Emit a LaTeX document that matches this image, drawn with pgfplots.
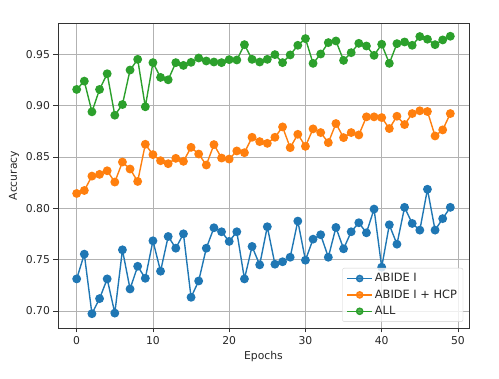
\documentclass[border=0pt]{standalone}
\usepackage{pgfplots}
\pgfplotsset{compat=1.18}
\usepackage{fontspec}
\setmainfont{DejaVu Sans}

\definecolor{mplblue}{HTML}{1F77B4}
\definecolor{mplorange}{HTML}{FF7F0E}
\definecolor{mplgreen}{HTML}{2CA02C}

\begin{document}
\begin{tikzpicture}
\begin{axis}[
at={(0,0)}, anchor=south west,
scale only axis,
width=411pt,
height=305pt,
xmin=-2.45, xmax=51.45,
ymin=0.6835, ymax=0.9805,
xtick={0,10,20,30,40,50},
ytick={0.70,0.75,0.80,0.85,0.90,0.95},
yticklabel style={/pgf/number format/.cd,fixed,fixed zerofill,precision=2},
/pgf/number format/assume math mode=true,
ticklabel style={font=\fontsize{10.8}{12}\selectfont, text=black!85},
label style={font=\fontsize{10.8}{12}\selectfont, text=black!85},
xlabel={Epochs},
ylabel={Accuracy},
xtick pos=bottom,
ytick pos=left,
tick align=outside,
major tick length=4.5pt,
tick style={black!80, line width=0.8pt},
axis line style={black!80, line width=0.9pt},
grid=major,
grid style={line width=0.8pt, color=black!30},
every axis plot/.append style={line width=1.4pt, mark=*, mark size=3.7pt},
legend cell align=left,
legend style={at={(0.986,0.02)}, anchor=south east, draw=black!18, rounded corners=2pt,
  fill=white, fill opacity=0.8, text opacity=1, text=black!85,
  font=\fontsize{11.4}{13}\selectfont, row sep=2.5pt, inner xsep=4pt, inner ysep=3.5pt},
legend image code/.code={\draw[mark repeat=2,mark phase=2,mark size=3.1pt] plot coordinates {(0pt,0pt)(12.5pt,0pt)(25pt,0pt)};},
]

\addplot[color=mplblue] coordinates {
(0,0.7313) (1,0.7554) (2,0.6974) (3,0.7121) (4,0.7313) (5,0.6980) (6,0.7596) (7,0.7215) (8,0.7436) (9,0.7319)
(10,0.7684) (11,0.7388) (12,0.7726) (13,0.7612) (14,0.7752) (15,0.7134) (16,0.7293) (17,0.7612) (18,0.7811) (19,0.7772)
(20,0.7678) (21,0.7772) (22,0.7313) (23,0.7629) (24,0.7450) (25,0.7821) (26,0.7456) (27,0.7480) (28,0.7524) (29,0.7876)
(30,0.7495) (31,0.7700) (32,0.7743) (33,0.7524) (34,0.7814) (35,0.7606) (36,0.7772) (37,0.7860) (38,0.7762) (39,0.7993)
(40,0.7427) (41,0.7840) (42,0.7651) (43,0.8010) (44,0.7853) (45,0.7788) (46,0.8186) (47,0.7788) (48,0.7900) (49,0.8010)
};
\addlegendentry{ABIDE I}

\addplot[color=mplorange] coordinates {
(0,0.8145) (1,0.8174) (2,0.8314) (3,0.8331) (4,0.8366) (5,0.8256) (6,0.8451) (7,0.8383) (8,0.8262) (9,0.8624)
(10,0.8523) (11,0.8464) (12,0.8435) (13,0.8487) (14,0.8458) (15,0.8594) (16,0.8529) (17,0.8422) (18,0.8621) (19,0.8490)
(20,0.8480) (21,0.8559) (22,0.8542) (23,0.8692) (24,0.8650) (25,0.8633) (26,0.8692) (27,0.8793) (28,0.8591) (29,0.8721)
(30,0.8604) (31,0.8774) (32,0.8738) (33,0.8640) (34,0.8826) (35,0.8689) (36,0.8738) (37,0.8715) (38,0.8891) (39,0.8891)
(40,0.8884) (41,0.8777) (42,0.8897) (43,0.8816) (44,0.8923) (45,0.8950) (46,0.8943) (47,0.8705) (48,0.8764) (49,0.8923)
};
\addlegendentry{ABIDE I + HCP}

\addplot[color=mplgreen] coordinates {
(0,0.9158) (1,0.9239) (2,0.8940) (3,0.9158) (4,0.9311) (5,0.8907) (6,0.9011) (7,0.9347) (8,0.9451) (9,0.8989)
(10,0.9419) (11,0.9275) (12,0.9252) (13,0.9419) (14,0.9392) (15,0.9422) (16,0.9464) (17,0.9435) (18,0.9425) (19,0.9419)
(20,0.9448) (21,0.9445) (22,0.9594) (23,0.9451) (24,0.9425) (25,0.9451) (26,0.9497) (27,0.9419) (28,0.9494) (29,0.9588)
(30,0.9653) (31,0.9412) (32,0.9503) (33,0.9614) (34,0.9630) (35,0.9441) (36,0.9516) (37,0.9607) (38,0.9581) (39,0.9490)
(40,0.9598) (41,0.9412) (42,0.9604) (43,0.9620) (44,0.9588) (45,0.9673) (46,0.9647) (47,0.9594) (48,0.9640) (49,0.9676)
};
\addlegendentry{ALL}

\end{axis}
\pgfresetboundingbox
\path (-58pt,-51pt) rectangle (441pt,328pt);
\end{tikzpicture}
\end{document}
